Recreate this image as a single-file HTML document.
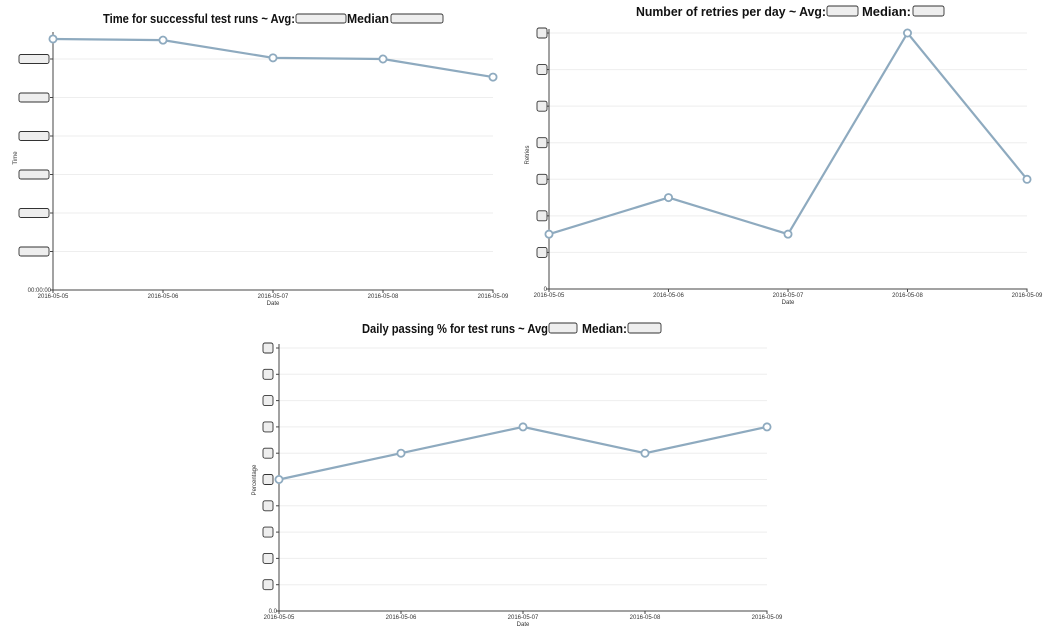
<!DOCTYPE html>
<html><head><meta charset="utf-8"><style>
html,body{margin:0;padding:0;background:#fff;}
svg{display:block;font-family:"Liberation Sans",sans-serif;}
.title{font-weight:bold;font-size:13px;fill:#111;}
.tick{font-size:6px;fill:#333;}
.grid{stroke:#eee;stroke-width:1;}
.axis{stroke:#444;stroke-width:1;fill:none;}
.line{stroke:#8eaabf;stroke-width:2.2;fill:none;}
.pt{fill:#fff;stroke:#8eaabf;stroke-width:1.8;}
.box{fill:#eee;stroke:#333;stroke-width:0.9;}
.alabel{font-size:6px;fill:#333;}
</style></head><body>
<svg id="s" width="1056" height="640" viewBox="0 0 1056 640">
<g>
<text class="title" x="103" y="23" textLength="192" lengthAdjust="spacingAndGlyphs">Time for successful test runs ~ Avg:</text>
<rect class="box" x="296" y="14" width="50" height="9" rx="2"/>
<text class="title" x="347" y="23" textLength="42" lengthAdjust="spacingAndGlyphs">Median</text>
<rect class="box" x="391" y="14" width="52" height="9" rx="2"/>
</g>
<g>
<text class="title" x="636" y="16" textLength="190" lengthAdjust="spacingAndGlyphs">Number of retries per day ~ Avg:</text>
<rect class="box" x="827" y="6" width="31" height="10" rx="2"/>
<text class="title" x="862" y="16" textLength="49" lengthAdjust="spacingAndGlyphs">Median:</text>
<rect class="box" x="913" y="6" width="31" height="10" rx="2"/>
</g>
<g>
<text class="title" x="362" y="333" textLength="186" lengthAdjust="spacingAndGlyphs">Daily passing % for test runs ~ Avg</text>
<rect class="box" x="549" y="323" width="28" height="10" rx="2"/>
<text class="title" x="582" y="333" textLength="45" lengthAdjust="spacingAndGlyphs">Median:</text>
<rect class="box" x="628" y="323" width="33" height="10" rx="2"/>
</g>
</svg>
<script>
const dates = ["2016-05-05","2016-05-06","2016-05-07","2016-05-08","2016-05-09"];
const timeValues = [6.52, 6.49, 6.03, 6.0, 5.53];
const timeTicks = [0,1,2,3,4,5,6];
const retryValues = [3, 5, 3, 14, 6];
const retryTicks = [0,2,4,6,8,10,12,14];
const passValues = [0.5, 0.6, 0.7, 0.6, 0.7];
const passTicks = [0,0.1,0.2,0.3,0.4,0.5,0.6,0.7,0.8,0.9,1.0];

const NS="http://www.w3.org/2000/svg";
const svg=document.getElementById('s');
function mk(tag,attrs,parent){const e=document.createElementNS(NS,tag);for(const k in attrs)e.setAttribute(k,attrs[k]);(parent||svg).appendChild(e);return e;}

function chart(cfg){
  const g=mk('g',{});
  
  
  const xs=i=>cfg.x0+(cfg.x1-cfg.x0)*i/(dates.length-1);
  const ys=v=>cfg.y0-(v-cfg.dmin)*(cfg.y0-cfg.ytop)/(cfg.dmax-cfg.dmin);
  cfg.ticks.forEach((t,i)=>{
    const y=ys(t);
    if(i>0){const gl=mk('line',{x1:cfg.x0,x2:cfg.x1,y1:y,y2:y,class:'grid'},g);
      
      }
    mk('line',{x1:cfg.x0-3,x2:cfg.x0,y1:y,y2:y,class:'axis'},g);
    if(i===0){const tx=mk('text',{x:cfg.x0-2,y:y+2,class:'tick','text-anchor':'end'},g);tx.textContent=cfg.zeroLabel;
      
      }
    else{const b=mk('rect',{x:cfg.bx,y:y-cfg.bh/2,width:cfg.bw,height:cfg.bh,rx:2,class:'box'},g);
      
      }
  });
  const ax=mk('path',{d:`M${cfg.x0},${cfg.ytop-4}V${cfg.y0}H${cfg.x1}V${cfg.y0+3}`,class:'axis'},g);
  
  
  dates.forEach((d,i)=>{
    mk('line',{x1:xs(i),x2:xs(i),y1:cfg.y0,y2:cfg.y0+3,class:'axis'},g);
    const t=mk('text',{x:xs(i),y:cfg.y0+8,class:'tick','text-anchor':'middle'},g);t.textContent=d;
    
    
  });
  const xl=mk('text',{x:(cfg.x0+cfg.x1)/2,y:cfg.y0+15,class:'alabel','text-anchor':'middle'},g);xl.textContent='Date';
  
  
  const yl=mk('text',{x:0,y:0,class:'alabel','text-anchor':'middle',transform:`translate(${cfg.ylx},${cfg.yly}) rotate(-90)`},g);yl.textContent=cfg.ylabel;
  
  
  const pl=mk('polyline',{points:cfg.vals.map((v,i)=>xs(i)+','+ys(v)).join(' '),class:'line'},g);
  
  
  cfg.vals.forEach((v,i)=>{
    const c=mk('circle',{cx:xs(i),cy:ys(v),r:3.6,class:'pt'},g);
    
    
  });
}
chart({name:'time-chart',x0:53,x1:493,y0:290,ytop:36,dmin:0,dmax:290/38.5-36/38.5,ticks:timeTicks,vals:timeValues,
  bx:19,bw:30,bh:9,zeroLabel:'00:00:00',ylabel:'Time',ylx:17,yly:158});
chart({name:'retries-chart',x0:549,x1:1027,y0:289,ytop:33,dmin:0,dmax:14,ticks:retryTicks,vals:retryValues,
  bx:537,bw:10,bh:10,zeroLabel:'0',ylabel:'Retries',ylx:529,yly:155});
chart({name:'passing-chart',x0:279,x1:767,y0:611,ytop:348,dmin:0,dmax:1,ticks:passTicks,vals:passValues,
  bx:263,bw:10,bh:10,zeroLabel:'0.0',ylabel:'Percentage',ylx:256,yly:480});
</script>
</body></html>
